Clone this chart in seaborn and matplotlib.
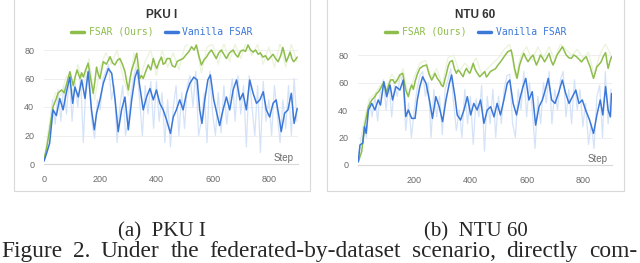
import numpy as np
import pandas as pd
import seaborn as sns
import matplotlib.pyplot as plt
from matplotlib.patches import Rectangle

# PKU I - smoothed curves
pku_fsar_step = [0, 10, 20, 32, 42, 50, 62, 72, 81, 92, 98, 104, 112, 118, 128, 134, 140, 148, 157, 166,
                 175, 181, 187, 193, 199, 205, 211, 222, 235, 244, 252, 262, 270, 279, 288, 294, 300, 306, 312, 322,
                 330, 336, 341, 347, 353, 362, 371, 380, 389, 395, 401, 410, 418, 424, 430, 438, 448, 456, 466, 474,
                 484, 495, 507, 516, 525, 534, 542, 551, 560, 569, 578, 587, 596, 604, 613, 622, 631, 640, 649, 660,
                 673, 681, 690, 699, 708, 717, 726, 735, 744, 753, 762, 770, 779, 788, 797, 806, 815, 824, 833, 842,
                 850, 856, 862, 869, 876, 882, 888, 894, 901]
pku_fsar = [3, 12, 24, 40, 45, 49.6, 52, 50, 56.6, 64.8, 60, 55, 62, 66, 60, 64, 61, 66, 70.7, 60,
            49.6, 58, 68, 63, 60, 66, 71.8, 70, 75.3, 71, 69.5, 73, 74, 70, 64.8, 58, 52, 60, 66, 72,
            77.7, 68, 60, 62, 60, 65, 69.5, 66, 74, 70, 67, 72, 75, 70, 70.7, 74, 74, 69, 68, 72,
            73, 74, 77, 79, 82.3, 80, 83.5, 76, 69.5, 73, 75, 78, 80, 77, 74, 78, 80, 77, 74, 78,
            80, 77, 75, 79, 80, 79, 83.5, 80, 78.5, 80, 77, 78, 75, 76, 73, 75, 77, 74, 71.8, 76,
            81.8, 77, 71.8, 75, 78.5, 74, 71.8, 73, 75]
pku_van_step = [0, 10, 20, 32, 44, 56, 68, 80, 92, 102, 110, 122, 134, 146, 157, 169, 179, 187, 199, 211, 229, 241,
                253, 264, 276, 288, 300, 312, 324, 333, 341, 353, 365, 377, 389, 400, 412, 424, 436, 450, 460, 471,
                483, 495, 507, 519, 533, 545, 554, 562, 572, 583, 592, 604, 615, 625, 637, 649, 661, 673, 685, 697,
                708, 720, 732, 744, 756, 768, 780, 791, 803, 815, 826, 838, 844, 856, 868, 880, 890, 901]
pku_van = [2, 8, 14.5, 38, 34, 46, 38, 50.7, 61, 42.6, 54, 47, 59, 46, 64.8, 38, 24, 35.6, 45, 56.6, 67, 63.6,
           45, 22.7, 38, 47, 24, 45, 61, 66, 54, 38, 47, 53, 45, 52, 42.6, 38, 31, 21.5, 33, 38,
           45, 38, 49.6, 56.6, 61, 59, 38, 28.5, 45, 59, 62.5, 45, 35.6, 27, 38, 47, 38, 52, 59, 45,
           49.6, 38, 59, 49.6, 42.6, 45, 50.7, 38, 33, 42.6, 45, 31, 22.7, 35.6, 38, 49.6, 28.5, 39]
# PKU I - raw (faint) curves
raw_step10 = list(range(0, 901, 10))
raw_step20 = list(range(0, 901, 20))
pku_van_raw = [2, 10, 25, 45, 28, 52, 30, 55, 35, 62, 30, 58, 40, 62, 15, 60, 66, 30, 18, 45, 38, 60, 65, 70, 45, 55,
               15, 40, 55, 20, 30, 50, 62, 70, 45, 20, 55, 35, 58, 25, 58, 30, 50, 15, 45, 12, 40, 55, 20, 50, 25,
               55, 62, 40, 65, 20, 30, 50, 15, 65, 35, 20, 50, 22, 55, 28, 45, 60, 30, 62, 35, 55, 12, 62, 40, 20,
               55, 8, 58, 30, 45, 20, 55, 35, 15, 45, 25, 55, 20, 60, 30]
pku_fsar_raw = [2, 30, 50, 48, 62, 50, 70, 55, 74, 45, 68, 78, 70, 80, 62, 48, 78, 58, 72, 80, 62, 80, 68, 78, 66, 82,
                86, 85, 64, 82, 84, 70, 85, 72, 84, 74, 86, 76, 84, 70, 82, 68, 85, 68, 84, 72]

# NTU 60 - smoothed curves
ntu_fsar_step = [1, 13, 25, 37, 49, 60, 66, 72, 81, 90, 96, 102, 109, 116, 124, 131, 140, 149, 159, 170,
                 179, 185, 191, 197, 203, 211, 220, 232, 244, 253, 262, 268, 274, 282, 291, 297, 303, 309, 315, 321,
                 327, 336, 343, 350, 356, 362, 368, 374, 380, 386, 392, 398, 404, 410, 416, 421, 427, 433, 442, 451,
                 457, 463, 471, 480, 489, 498, 507, 516, 524, 533, 545, 551, 557, 566, 575, 582, 590, 597, 605, 614,
                 623, 629, 635, 642, 649, 656, 664, 672, 680, 687, 694, 701, 708, 718, 727, 734, 741, 750, 759, 768,
                 777, 786, 795, 803, 812, 819, 826, 832, 838, 844, 850, 857, 865, 873, 881, 886, 890, 896, 902]
ntu_fsar = [2.4, 9.7, 30, 42.4, 47.3, 49.7, 52, 53, 56, 59.4, 57, 53, 58, 61.8, 62, 59.4, 62, 65.5, 66.7, 54.5,
            49.7, 55, 58.2, 55, 60.6, 66, 70.3, 72, 72.7, 66, 61.8, 64, 66.7, 63, 60.6, 58, 57, 62, 66.7, 72,
            75, 76, 70, 66.7, 69, 67.9, 66, 64.2, 68, 70.3, 68, 66.7, 70, 73.9, 70, 67.9, 66, 64.2, 66, 67.9,
            64, 65.5, 68, 69, 70, 72.7, 75, 77.6, 80, 82.4, 83.6, 78, 70.3, 63, 72.7, 77, 81.2, 78, 75.1, 78,
            80, 76, 72.7, 76, 80, 78, 75, 78, 81.2, 76, 72.7, 76, 80, 83, 86, 83, 80, 78, 77.6, 80,
            78.8, 77, 75, 77, 78.8, 75, 71.5, 67, 63, 67, 71.5, 73, 75, 79, 81.7, 75, 70.3, 75, 78.8]
ntu_van_step = [1, 7, 17, 23, 29, 37, 49, 60, 72, 80, 92, 102, 114, 123, 135, 149, 161, 170, 179, 191, 203, 211, 220,
                230, 242, 254, 265, 277, 289, 301, 313, 325, 333, 345, 353, 365, 377, 389, 401, 412, 424, 436, 448,
                460, 472, 484, 495, 507, 519, 531, 540, 552, 564, 575, 587, 597, 608, 620, 632, 644, 656, 668, 677,
                689, 701, 713, 727, 739, 751, 763, 775, 786, 798, 810, 824, 838, 850, 862, 871, 881, 890, 898, 902]
ntu_van = [2.4, 14.5, 16, 27.9, 23, 40, 44.8, 40, 47.3, 43.6, 60.6, 49.7, 58.2, 47.3, 57, 54.5, 61.8, 35.2, 40, 33.9,
           33.9, 47.3, 57, 64.2, 59.4, 47.3, 33.9, 49.7, 42.4, 31.5, 47.3, 59.4, 65.5, 49.7, 36.4, 32.7, 40, 49.7,
           36.4, 44.8, 40, 47.3, 30.3, 40, 42.4, 35, 44.8, 36.4, 47.3, 59.4, 61.8, 44.8, 36.4, 47.3, 57, 63, 47.3,
           53.3, 29, 42.4, 47.3, 55.7, 63, 47.3, 44.8, 52, 61.8, 52, 44.8, 49.7, 54.5, 44.8, 47.3, 40, 32.7, 23,
           36.4, 47.3, 36.4, 57, 40, 35, 52]
ntu_van_raw = [2, 18, 30, 20, 48, 35, 50, 32, 55, 62, 40, 60, 35, 58, 50, 66, 60, 25, 45, 20, 40, 55, 65, 68, 50, 60,
               20, 55, 35, 50, 22, 55, 62, 70, 45, 25, 40, 20, 55, 30, 50, 15, 48, 35, 58, 10, 50, 30, 55, 20, 50,
               30, 55, 65, 66, 30, 20, 55, 40, 68, 35, 60, 40, 12, 50, 30, 60, 45, 68, 30, 55, 40, 62, 68, 35, 55,
               30, 62, 40, 55, 28, 45, 15, 30, 12, 50, 58, 20, 68, 30, 55]
ntu_fsar_raw = [2, 30, 48, 52, 58, 55, 66, 60, 70, 50, 64, 74, 76, 64, 70, 58, 78, 80, 68, 74, 70, 78, 66, 70, 74, 78,
                84, 88, 64, 80, 86, 76, 86, 78, 86, 76, 88, 84, 80, 84, 78, 82, 66, 80, 88, 80]

caption = 'Figure 2. Under the federated-by-dataset scenario, directly com-'

GREEN = '#8dbd4a'
BLUE = '#3b78d8'
GREEN_RAW = '#ebf3dc'
BLUE_RAW = '#d5e3f8'
GRAY = '#d9d9d9'
TXT = '#6b6b6b'

sns.set_style('white')
plt.rcParams['font.family'] = ['Liberation Sans', 'DejaVu Sans']

fig = plt.figure(figsize=(6.4, 2.63), dpi=100)
W, H = 640, 263


def px_axes(left, top, right, bottom):
    return fig.add_axes([left / W, 1 - bottom / H, (right - left) / W, (bottom - top) / H])


panels = [
    dict(title='PKU I', box=(14, 310), ax=(44, 164 - 84 * 1.425, 297.5, 164), ylim=84,
         fsar=(pku_fsar_step, pku_fsar, pku_fsar_raw), van=(pku_van_step, pku_van, pku_van_raw), zero=True,
         cap='(a)  PKU I'),
    dict(title='NTU 60', box=(327, 624), ax=(358, 165 - 88 * 1.375, 611.5, 165), ylim=88,
         fsar=(ntu_fsar_step, ntu_fsar, ntu_fsar_raw), van=(ntu_van_step, ntu_van, ntu_van_raw), zero=False,
         cap='(b)  NTU 60'),
]

for p in panels:
    x0, x1 = p['box']
    xc = ((x0 + x1) / 2) / W
    fig.add_artist(Rectangle((x0 / W, 1 - 191 / H), (x1 - x0) / W, 194 / H, transform=fig.transFigure,
                             fill=False, edgecolor=GRAY, lw=0.8))
    ax = px_axes(*p['ax'])
    ax.set_facecolor('none')

    sns.lineplot(x=raw_step10, y=p['van'][2], ax=ax, color=BLUE_RAW, lw=0.9, label='_nolegend_')
    sns.lineplot(x=raw_step20, y=p['fsar'][2], ax=ax, color=GREEN_RAW, lw=0.9, label='_nolegend_')
    sns.lineplot(x=p['fsar'][0], y=p['fsar'][1], ax=ax, color=GREEN, lw=1.1, label='FSAR (Ours)')
    sns.lineplot(x=p['van'][0], y=p['van'][1], ax=ax, color=BLUE, lw=1.1, label='Vanilla FSAR')

    ax.set_xlim(0, 902)
    ax.set_ylim(0, p['ylim'])
    ax.set_yticks([0, 20, 40, 60, 80])
    ax.set_xticks([0, 200, 400, 600, 800])
    if not p['zero']:
        ax.set_xticklabels(['', '200', '400', '600', '800'])
    ax.grid(axis='y', color='#ebebeb', lw=0.6)
    for s in ['top', 'right', 'left']:
        ax.spines[s].set_visible(False)
    ax.spines['bottom'].set_color(GRAY)
    ax.spines['bottom'].set_linewidth(0.8)
    ax.tick_params(axis='x', direction='inout', length=4, width=0.6, color=GRAY, labelsize=6.5,
                   labelcolor=TXT, pad=6)
    ax.tick_params(axis='y', length=0, labelsize=6.5, labelcolor=TXT, pad=7)
    ax.set_xlabel('')
    ax.set_ylabel('')
    ax.annotate('Step', xy=(1.0, 0), xycoords='axes fraction', xytext=(-4, 6), textcoords='offset pixels',
                ha='right', va='center', fontsize=7, color=TXT)

    fig.text(xc, 1 - 15 / H, p['title'], ha='center', va='center', fontsize=8.5, fontweight='bold',
             color='#333333')

    leg = ax.legend(loc='center', bbox_to_anchor=(xc, 1 - 32 / H),
                    bbox_transform=fig.transFigure, ncol=2, frameon=False, handlelength=1.3,
                    handletextpad=0.5, columnspacing=1.2, labelcolor='linecolor',
                    prop={'family': 'DejaVu Sans Mono', 'size': 7})
    for h in leg.get_lines():
        h.set_linewidth(2.5)

    fig.text(xc, 1 - 236 / H, p['cap'], ha='center', va='baseline', fontsize=15, family='Liberation Serif')

# caption line, justified across the width
fig.canvas.draw()
renderer = fig.canvas.get_renderer()
probe = fig.text(0, 0, caption, fontsize=10, family='Liberation Serif')
size = 0.95 * 10 * 634 / probe.get_window_extent(renderer).width
probe.remove()
words = caption.split(' ')
texts = [fig.text(0, 1 - 257 / H, w, ha='left', va='baseline', fontsize=size, family='Liberation Serif')
         for w in words]
widths = [t.get_window_extent(renderer).width for t in texts]
gap = (637 - 1 - sum(widths)) / (len(words) - 1)
xpos = 1
for t, w in zip(texts, widths):
    t.set_x(xpos / W)
    xpos += w + gap

fig.savefig('out.png', dpi=100)
